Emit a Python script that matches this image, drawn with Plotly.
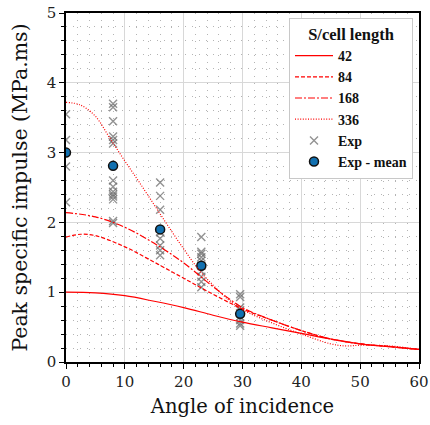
import plotly.graph_objects as go

# Model curves (angle of incidence, degrees)
angles_42 = [0, 5, 10, 15, 20, 25, 30, 35, 40, 45, 50, 55, 60]
impulse_42 = [1.00, 0.99, 0.95, 0.87, 0.78, 0.67, 0.57, 0.49, 0.41, 0.33, 0.26, 0.22, 0.18]

angles_84 = [0, 2.5, 5, 10, 15, 20, 25, 30, 35, 40, 45, 50, 55, 60]
impulse_84 = [1.79, 1.83, 1.81, 1.65, 1.43, 1.20, 0.97, 0.76, 0.60, 0.45, 0.33, 0.26, 0.22, 0.18]

angles_168 = [0, 5, 10, 15, 20, 25, 30, 35, 40, 45, 50, 55, 60]
impulse_168 = [2.14, 2.08, 1.93, 1.70, 1.42, 1.08, 0.78, 0.60, 0.45, 0.33, 0.26, 0.22, 0.18]

angles_336 = [0, 2.5, 5, 7.5, 10, 12.5, 15, 17.5, 20, 22.5, 25, 27.5, 30, 35, 40, 45, 47.5, 50, 55, 60]
impulse_336 = [3.72, 3.68, 3.52, 3.20, 2.88, 2.57, 2.25, 1.93, 1.62, 1.33, 1.10, 0.90, 0.75, 0.56, 0.40, 0.26, 0.23, 0.24, 0.23, 0.18]

# Experimental data
exp_angle = ([0] * 4 + [8] * 14 + [16] * 8 + [23] * 10 + [29.6] * 9)
exp_impulse = ([3.55, 3.18, 2.80, 2.29]
               + [3.70, 3.65, 3.45, 3.23, 3.18, 3.13, 2.60, 2.51, 2.44, 2.40, 2.37, 2.33, 2.02, 1.99]
               + [2.57, 2.38, 2.18, 1.86, 1.77, 1.67, 1.60, 1.53]
               + [1.79, 1.58, 1.55, 1.50, 1.45, 1.38, 1.30, 1.22, 1.15, 1.07]
               + [0.97, 0.93, 0.78, 0.74, 0.70, 0.65, 0.60, 0.55, 0.52])

mean_angle = [0, 8, 16, 23, 29.6]
mean_impulse = [3.00, 2.81, 1.90, 1.38, 0.69]

series_names = ["42", "84", "168", "336"]
legend_title = "S/cell length"

FONT = "DejaVu Serif, Liberation Serif, serif"
LEGEND_FONT = "Liberation Serif, serif"
RED = "#ff0000"

fig = go.Figure()

fig.add_trace(go.Scatter(x=exp_angle, y=exp_impulse, mode="markers", name="Exp",
                         cliponaxis=True,
                         marker=dict(symbol="x-thin", size=8, color="rgba(110,110,110,0.75)",
                                     line=dict(width=1.4, color="rgba(110,110,110,0.75)")),
                         legendrank=5))
fig.add_trace(go.Scatter(x=mean_angle, y=mean_impulse, mode="markers", name="Exp - mean",
                         cliponaxis=True,
                         marker=dict(symbol="circle", size=9, color="#1170b0",
                                     line=dict(width=1.5, color="#111111")),
                         legendrank=6))

curves = [
    (angles_42, impulse_42, "solid"),
    (angles_84, impulse_84, "4px,2px"),
    (angles_168, impulse_168, "7px,2px,2px,2px"),
    (angles_336, impulse_336, "1px,1.6px"),
]
for rank, (name, (xs, ys, dash)) in enumerate(zip(series_names, curves), start=1):
    fig.add_trace(go.Scatter(x=xs, y=ys, mode="lines", name=name, line_shape="spline",
                             line=dict(color=RED, width=1.2, dash=dash), legendrank=rank))

axis_common = dict(
    showline=True, linecolor="black", linewidth=1.5, mirror=True,
    ticks="outside", ticklen=5, tickwidth=1, tickcolor="black",
    showgrid=True, gridcolor="#d8d8d8", gridwidth=1,
    zeroline=False, automargin=False,
    tickfont=dict(family=FONT, size=15, color="#222222"),
)

fig.update_xaxes(range=[0, 60], dtick=10, tick0=0,
                 minor=dict(dtick=2, ticklen=3, tickcolor="black", ticks="outside",
                            showgrid=True, gridcolor="#b4b4b4", griddash="1px,6px"),
                 title=dict(text="Angle of incidence", font=dict(family=FONT, size=19.5, color="#111111"),
                            standoff=10),
                 **axis_common)
fig.update_yaxes(range=[0, 5], dtick=1, tick0=0,
                 minor=dict(dtick=0.2, ticklen=3, tickcolor="black", ticks="outside",
                            showgrid=True, gridcolor="#b4b4b4", griddash="1px,6px"),
                 title=dict(text="Peak specific impulse (MPa.ms)", font=dict(family=FONT, size=20.5, color="#111111"),
                            standoff=14),
                 **axis_common)

fig.update_layout(
    width=430, height=425,
    margin=dict(l=66, r=11, t=13, b=63),
    paper_bgcolor="white", plot_bgcolor="white",
    font=dict(family=FONT, color="#111111"),
    legend=dict(
        title=dict(text=legend_title, font=dict(family=LEGEND_FONT, size=16.5, weight="bold"),
                   side="top center"),
        font=dict(family=LEGEND_FONT, size=14, weight="bold", color="#111111"),
        x=0.983, xanchor="right", y=0.987, yanchor="top",
        bgcolor="white", bordercolor="#c8c8c8", borderwidth=1,
        itemwidth=38,
    ),
    showlegend=True,
)

fig.write_html("out.html")
